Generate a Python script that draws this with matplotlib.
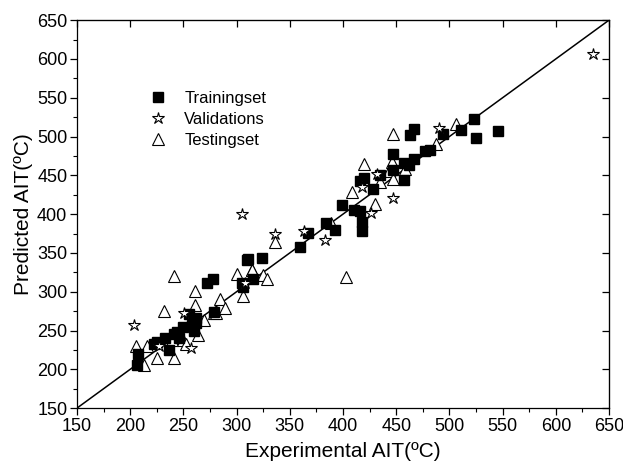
import matplotlib
matplotlib.use("Agg")
import matplotlib.pyplot as plt
from matplotlib.ticker import MultipleLocator

plt.rcParams['font.family'] = ['Liberation Sans', 'DejaVu Sans']

# Training set (experimental, predicted)
train_x = [206, 207, 222, 225, 233, 236, 241, 244, 246, 250, 255, 258, 260, 262, 262,
           272, 278, 279, 305, 306, 311, 315, 324, 310, 360, 367, 384, 392, 399, 410,
           416, 418, 418, 428, 416, 420, 435, 447, 447, 457, 457, 462, 467, 463, 467,
           477, 482, 494, 511, 523, 525, 546]
train_y = [205, 220, 233, 235, 240, 225, 246, 248, 240, 254, 271, 257, 250, 260, 266,
           311, 316, 274, 311, 306, 342, 316, 343, 341, 358, 376, 388, 380, 412, 405,
           404, 390, 378, 432, 443, 446, 451, 457, 477, 444, 466, 463, 471, 502, 510,
           481, 483, 503, 508, 523, 498, 507]

# Validation set
val_x = [204, 227, 251, 257, 308, 305, 336, 363, 383, 418, 426, 447, 432, 490, 635]
val_y = [257, 230, 273, 227, 311, 400, 375, 378, 367, 435, 402, 421, 452, 511, 606]

# Testing set
test_x = [205, 213, 216, 225, 232, 239, 241, 241, 250, 252, 261, 261, 264, 269, 279,
          281, 284, 289, 300, 306, 314, 314, 325, 329, 336, 389, 403, 408, 420, 430,
          435, 443, 446, 447, 447, 458, 487, 506]
test_y = [230, 206, 230, 214, 275, 238, 320, 214, 238, 233, 301, 283, 244, 263, 272,
          272, 291, 279, 323, 295, 328, 328, 321, 316, 364, 388, 319, 429, 465, 413,
          442, 456, 467, 503, 445, 458, 490, 516]

fig = plt.figure(figsize=(6.23, 4.68), dpi=100)
ax = fig.add_axes([0.1236, 0.128, 0.854, 0.829])

ax.plot([150, 650], [150, 650], color='black', lw=1.1, zorder=1)

ax.plot(train_x, train_y, 's', color='black', ms=6.8, ls='none', label='Trainingset', zorder=3)
ax.plot(val_x, val_y, '*', mfc='white', mec='black', mew=0.8, ms=9, ls='none',
        label='Validations', zorder=4)
ax.plot(test_x, test_y, '^', mfc='white', mec='black', mew=0.8, ms=9, ls='none',
        label='Testingset', zorder=2)

ax.set_xlim(150, 650)
ax.set_ylim(150, 650)
ax.xaxis.set_major_locator(MultipleLocator(50))
ax.yaxis.set_major_locator(MultipleLocator(50))
ax.xaxis.set_minor_locator(MultipleLocator(25))
ax.yaxis.set_minor_locator(MultipleLocator(25))
ax.tick_params(which='major', direction='out', length=5, width=0.9, labelsize=13, pad=2)
ax.tick_params(which='minor', direction='out', length=3, width=0.8)

# inward ticks on top and right
top = ax.secondary_xaxis('top')
top.xaxis.set_major_locator(MultipleLocator(50))
top.tick_params(direction='in', length=5, width=0.9, labeltop=False)
right = ax.secondary_yaxis('right')
right.yaxis.set_major_locator(MultipleLocator(50))
right.tick_params(direction='in', length=5, width=0.9, labelright=False)

for s in ax.spines.values():
    s.set_linewidth(0.9)

ax.set_xlabel('Experimental AIT(ºC)', fontsize=15, labelpad=5)
ax.set_ylabel('Predicted AIT(ºC)', fontsize=15, labelpad=3)

ax.legend(loc='upper left', bbox_to_anchor=(0.1, 0.857), frameon=False, fontsize=12,
          handletextpad=0.85, labelspacing=0.38, handlelength=1.5)

fig.savefig('out.png', dpi=100)
